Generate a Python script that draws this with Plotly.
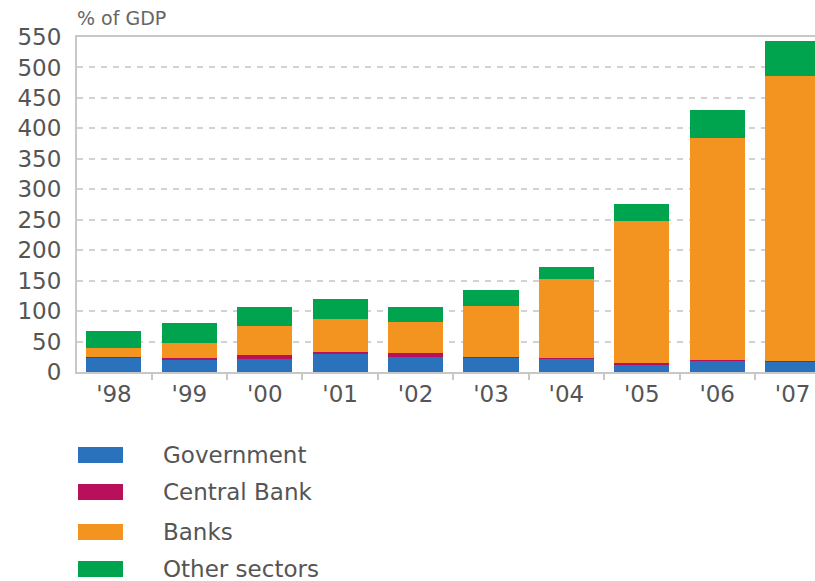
import plotly.graph_objects as go

years = ["'98", "'99", "'00", "'01", "'02", "'03", "'04", "'05", "'06", "'07"]
government = [23, 21, 22, 29, 24, 24, 22, 13, 19, 17]
central_bank = [1, 2, 6, 4, 7, 1, 1, 1, 1, 1]
banks = [16, 24, 48, 54, 51, 84, 130, 234, 365, 468]
other_sectors = [28, 33, 30, 33, 25, 25, 19, 28, 45, 58]

series = [
    ("Government", government, "#2a72bb"),
    ("Central Bank", central_bank, "#b8105a"),
    ("Banks", banks, "#f39420"),
    ("Other sectors", other_sectors, "#00a44e"),
]

fig = go.Figure()
for name, vals, col in series:
    fig.add_trace(go.Bar(x=years, y=vals, name=name, marker=dict(color=col, line=dict(width=0)),
                         width=0.73, showlegend=False))

font = "DejaVu Sans, sans-serif"
txt_col = "#555555"
fig.update_layout(
    barmode="stack",
    width=815, height=581,
    margin=dict(l=77, r=0, t=37, b=209),
    plot_bgcolor="white", paper_bgcolor="white",
    font=dict(family=font, color=txt_col, size=23),
    xaxis=dict(range=[-0.49, 9.297], showline=True, linecolor="#c8c8c8", linewidth=2, mirror=True,
               ticks="outside", tickson="boundaries", ticklen=6, tickcolor="#c8c8c8", tickwidth=2,
               showgrid=False, tickfont=dict(size=23, color=txt_col)),
    yaxis=dict(range=[0, 550], tickvals=list(range(0, 551, 50)), showline=True, linecolor="#c8c8c8",
               linewidth=2, showgrid=True, gridcolor="#d2d2d2", gridwidth=2, griddash="6px,6px",
               ticks="", ticklabelstandoff=9, zeroline=False, tickfont=dict(size=23, color=txt_col)),
)

plot_h = 581 - 37 - 209
anns = [dict(text="% of GDP", x=-2 / 738, xref="paper", xanchor="left",
             y=(581 - 209 - 18) / plot_h, yref="paper", yanchor="middle", showarrow=False,
             font=dict(size=19, color="#666666"))]

# legend drawn as swatches + labels
row_y = [455, 492, 532, 569]
shapes = []
for (name, vals, col), yy in zip(series, row_y):
    y_top = (581 - 209 - (yy - 8)) / plot_h
    y_bot = (581 - 209 - (yy + 8)) / plot_h
    shapes.append(dict(type="rect", xref="paper", yref="paper", x0=(78 - 77) / 738, x1=(123 - 77) / 738,
                       y0=y_bot, y1=y_top, fillcolor=col, line=dict(width=0)))
    anns.append(dict(text=name, xref="paper", yref="paper", x=(161 - 77) / 738, xanchor="left",
                     y=(581 - 209 - yy) / plot_h, yanchor="middle", showarrow=False,
                     font=dict(size=23, color=txt_col)))
fig.update_layout(shapes=shapes, annotations=anns)

fig.write_html("out.html")
